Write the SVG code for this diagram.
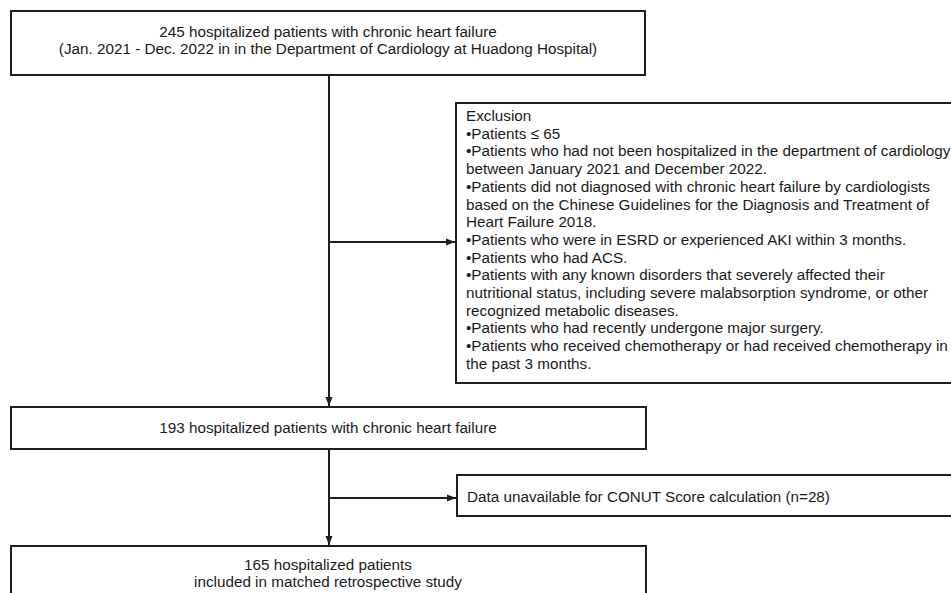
<svg xmlns="http://www.w3.org/2000/svg" width="951" height="593" viewBox="0 0 951 593">
<defs>
<style>
.box{fill:#ffffff;stroke:#1e1e1e;stroke-width:2}
.t{font-family:"Liberation Sans",Arial,sans-serif;font-size:15.25px;fill:#1a1a1a}
.c{text-anchor:middle}
.ln{stroke:#1e1e1e;stroke-width:2;fill:none}
</style>
<marker id="ah" markerWidth="10" markerHeight="8" refX="9" refY="4" orient="auto" markerUnits="userSpaceOnUse">
<path d="M0,0.5 L9,4 L0,7.5 Z" fill="#1e1e1e"/>
</marker>
</defs>
<rect width="951" height="593" fill="#ffffff"/>
<g id="connectors">
<line class="ln" x1="329" y1="76" x2="329" y2="406" marker-end="url(#ah)"/>
<line class="ln" x1="329" y1="242" x2="455" y2="242" marker-end="url(#ah)"/>
<line class="ln" x1="329" y1="450" x2="329" y2="545" marker-end="url(#ah)"/>
<line class="ln" x1="329" y1="498" x2="456" y2="498" marker-end="url(#ah)"/>
</g>
<g id="n1">
<rect class="box" x="11" y="11" width="634" height="64"/>
<text class="t c" x="328" y="37">245 hospitalized patients with chronic heart failure</text>
<text class="t c" x="328" y="54">(Jan. 2021 - Dec. 2022 in in the Department of Cardiology at Huadong Hospital)</text>
</g>
<g id="exclusion">
<rect class="box" x="456" y="103" width="505" height="280"/>
<text class="t" x="466" y="121">Exclusion</text>
<text class="t" x="466" y="138.7">•Patients ≤ 65</text>
<text class="t" x="466" y="156.4">•Patients who had not been hospitalized in the department of cardiology</text>
<text class="t" x="466" y="174.1">between January 2021 and December 2022.</text>
<text class="t" x="466" y="191.8">•Patients did not diagnosed with chronic heart failure by cardiologists</text>
<text class="t" x="466" y="209.5">based on the Chinese Guidelines for the Diagnosis and Treatment of</text>
<text class="t" x="466" y="227.2">Heart Failure 2018.</text>
<text class="t" x="466" y="244.9">•Patients who were in ESRD or experienced AKI within 3 months.</text>
<text class="t" x="466" y="262.6">•Patients who had ACS.</text>
<text class="t" x="466" y="280.3">•Patients with any known disorders that severely affected their</text>
<text class="t" x="466" y="298">nutritional status, including severe malabsorption syndrome, or other</text>
<text class="t" x="466" y="315.7">recognized metabolic diseases.</text>
<text class="t" x="466" y="333.4">•Patients who had recently undergone major surgery.</text>
<text class="t" x="466" y="351.1">•Patients who received chemotherapy or had received chemotherapy in</text>
<text class="t" x="466" y="368.8">the past 3 months.</text>
</g>
<g id="n2">
<rect class="box" x="11" y="407" width="635" height="42"/>
<text class="t c" x="328" y="433">193 hospitalized patients with chronic heart failure</text>
</g>
<g id="data">
<rect class="box" x="457" y="475" width="504" height="41"/>
<text class="t" x="467" y="502">Data unavailable for CONUT Score calculation (n=28)</text>
</g>
<g id="n3">
<rect class="box" x="11" y="546" width="635" height="60"/>
<text class="t c" x="328" y="570">165 hospitalized patients</text>
<text class="t c" x="328" y="587">included in matched retrospective study</text>
</g>
</svg>
